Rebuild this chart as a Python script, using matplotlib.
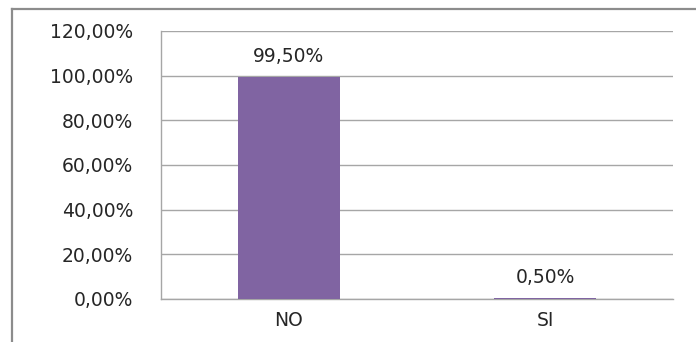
import matplotlib
matplotlib.use("Agg")
import matplotlib.pyplot as plt
from matplotlib.lines import Line2D

categories = ["NO", "SI"]
values = [99.50, 0.50]
y_ticks = [0, 20, 40, 60, 80, 100, 120]

plt.rcParams['font.family'] = ['DejaVu Sans']

W, H = 696, 342
fig = plt.figure(figsize=(W / 100, H / 100), dpi=100)
fig.patch.set_facecolor("white")

# plot area in pixel coordinates
left, right, top, bottom = 161, 673, 31, 299
ax = fig.add_axes([left / W, 1 - bottom / H, (right - left) / W, (bottom - top) / H])

x = list(range(len(categories)))
ax.bar(x, values, width=0.4, color="#8064A2", zorder=3)

FS = 13.5
TXT = "#262626"

for xi, v in zip(x, values):
    label = f"{v:.2f}%".replace(".", ",")
    ax.annotate(label, (xi, v), xytext=(0, 20), textcoords="offset pixels",
                ha="center", va="center", fontsize=FS, color=TXT)

ax.set_xlim(-0.5, len(categories) - 0.5)
ax.set_ylim(0, 120)
ax.set_yticks(y_ticks)
ax.set_yticklabels([f"{t:.2f}%".replace(".", ",") for t in y_ticks])
ax.set_xticks(x)
ax.set_xticklabels(categories)

ax.tick_params(axis="y", length=0, pad=20, labelsize=FS, labelcolor=TXT)
ax.tick_params(axis="x", length=0, pad=9, labelsize=FS, labelcolor=TXT)

ax.grid(axis="y", color="#a6a6a6", linewidth=1.0, zorder=0)
for side in ("top", "right"):
    ax.spines[side].set_visible(False)
for side in ("left", "bottom"):
    ax.spines[side].set_color("#a6a6a6")
    ax.spines[side].set_linewidth(1.0)

# chart frame (top and left edges)
fig.add_artist(Line2D([11.5 / W, 11.5 / W], [0, 1 - 8.5 / H], transform=fig.transFigure,
                      color="#8c8c8c", linewidth=1.6))
fig.add_artist(Line2D([11.5 / W, 1], [1 - 8.5 / H, 1 - 8.5 / H], transform=fig.transFigure,
                      color="#8c8c8c", linewidth=1.6))

fig.savefig("out.png", dpi=100)
